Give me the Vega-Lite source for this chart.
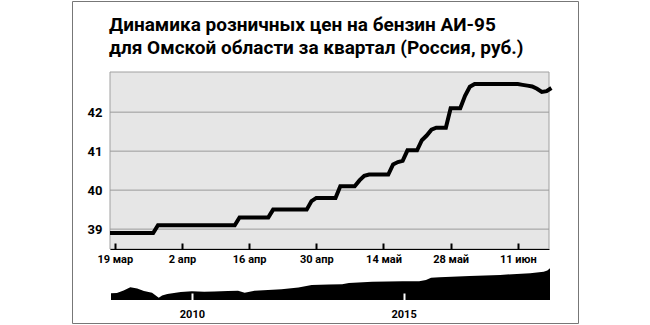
{
  "$schema": "https://vega.github.io/schema/vega-lite/v6.json",
  "width": 506,
  "height": 322,
  "padding": {"left": 72, "top": 1, "right": 2, "bottom": 1},
  "background": "white",
  "title": {
    "text": ["Динамика розничных цен на бензин АИ-95", "для Омской области за квартал (Россия, руб.)"],
    "anchor": "start",
    "frame": "group",
    "dx": 37,
    "offset": -57,
    "font": "Roboto",
    "fontSize": 19,
    "fontWeight": "bold",
    "lineHeight": 23,
    "color": "black"
  },
  "config": {
    "view": {"stroke": "#777", "strokeWidth": 1},
    "font": "Roboto",
    "axis": {"labelFont": "Roboto", "labelFontWeight": "bold", "labelColor": "black", "title": null}
  },
  "layer": [
    {
      "layer": [
        {
          "data": {"values": [{}]},
          "mark": {"type": "rect", "fill": "#e6e6e6", "stroke": "#a0a0a0", "strokeWidth": 1},
          "encoding": {
            "x": {"datum": {"year": 2018, "month": 3, "date": 18}, "type": "temporal"},
            "x2": {"datum": {"year": 2018, "month": 6, "date": 17, "hours": 12}},
            "y": {"datum": 38.49, "type": "quantitative"},
            "y2": {"datum": 43.03}
          }
        },
        {
          "data": {"values": [{"level": 39}, {"level": 40}, {"level": 41}, {"level": 42}]},
          "mark": {"type": "rule", "color": "#9a9a9a", "strokeWidth": 1},
          "encoding": {
            "x": {"datum": {"year": 2018, "month": 3, "date": 18}, "type": "temporal"},
            "x2": {"datum": {"year": 2018, "month": 6, "date": 17, "hours": 12}},
            "y": {"field": "level", "type": "quantitative"}
          }
        },
        {
          "data": {"values": [
            {"date": "2018-03-18T00:00", "price": 38.9},
            {"date": "2018-03-19T00:00", "price": 38.9},
            {"date": "2018-03-20T00:00", "price": 38.9},
            {"date": "2018-03-21T00:00", "price": 38.9},
            {"date": "2018-03-22T00:00", "price": 38.9},
            {"date": "2018-03-23T00:00", "price": 38.9},
            {"date": "2018-03-24T00:00", "price": 38.9},
            {"date": "2018-03-25T00:00", "price": 38.9},
            {"date": "2018-03-26T00:00", "price": 38.9},
            {"date": "2018-03-27T00:00", "price": 38.9},
            {"date": "2018-03-28T00:00", "price": 39.1},
            {"date": "2018-03-29T00:00", "price": 39.1},
            {"date": "2018-03-30T00:00", "price": 39.1},
            {"date": "2018-03-31T00:00", "price": 39.1},
            {"date": "2018-04-01T00:00", "price": 39.1},
            {"date": "2018-04-02T00:00", "price": 39.1},
            {"date": "2018-04-03T00:00", "price": 39.1},
            {"date": "2018-04-04T00:00", "price": 39.1},
            {"date": "2018-04-05T00:00", "price": 39.1},
            {"date": "2018-04-06T00:00", "price": 39.1},
            {"date": "2018-04-07T00:00", "price": 39.1},
            {"date": "2018-04-08T00:00", "price": 39.1},
            {"date": "2018-04-09T00:00", "price": 39.1},
            {"date": "2018-04-10T00:00", "price": 39.1},
            {"date": "2018-04-11T00:00", "price": 39.1},
            {"date": "2018-04-12T00:00", "price": 39.1},
            {"date": "2018-04-13T00:00", "price": 39.1},
            {"date": "2018-04-14T00:00", "price": 39.3},
            {"date": "2018-04-15T00:00", "price": 39.3},
            {"date": "2018-04-16T00:00", "price": 39.3},
            {"date": "2018-04-17T00:00", "price": 39.3},
            {"date": "2018-04-18T00:00", "price": 39.3},
            {"date": "2018-04-19T00:00", "price": 39.3},
            {"date": "2018-04-20T00:00", "price": 39.3},
            {"date": "2018-04-21T00:00", "price": 39.5},
            {"date": "2018-04-22T00:00", "price": 39.5},
            {"date": "2018-04-23T00:00", "price": 39.5},
            {"date": "2018-04-24T00:00", "price": 39.5},
            {"date": "2018-04-25T00:00", "price": 39.5},
            {"date": "2018-04-26T00:00", "price": 39.5},
            {"date": "2018-04-27T00:00", "price": 39.5},
            {"date": "2018-04-28T00:00", "price": 39.5},
            {"date": "2018-04-29T00:00", "price": 39.72},
            {"date": "2018-04-30T00:00", "price": 39.8},
            {"date": "2018-05-01T00:00", "price": 39.8},
            {"date": "2018-05-02T00:00", "price": 39.8},
            {"date": "2018-05-03T00:00", "price": 39.8},
            {"date": "2018-05-04T00:00", "price": 39.8},
            {"date": "2018-05-05T00:00", "price": 40.1},
            {"date": "2018-05-06T00:00", "price": 40.1},
            {"date": "2018-05-07T00:00", "price": 40.1},
            {"date": "2018-05-08T00:00", "price": 40.1},
            {"date": "2018-05-09T00:00", "price": 40.25},
            {"date": "2018-05-10T00:00", "price": 40.37},
            {"date": "2018-05-11T00:00", "price": 40.4},
            {"date": "2018-05-12T00:00", "price": 40.4},
            {"date": "2018-05-13T00:00", "price": 40.4},
            {"date": "2018-05-14T00:00", "price": 40.4},
            {"date": "2018-05-15T00:00", "price": 40.4},
            {"date": "2018-05-16T00:00", "price": 40.66},
            {"date": "2018-05-17T00:00", "price": 40.72},
            {"date": "2018-05-18T00:00", "price": 40.75},
            {"date": "2018-05-19T00:00", "price": 41.02},
            {"date": "2018-05-20T00:00", "price": 41.02},
            {"date": "2018-05-21T00:00", "price": 41.02},
            {"date": "2018-05-22T00:00", "price": 41.28},
            {"date": "2018-05-23T00:00", "price": 41.4},
            {"date": "2018-05-24T00:00", "price": 41.55},
            {"date": "2018-05-25T00:00", "price": 41.6},
            {"date": "2018-05-26T00:00", "price": 41.6},
            {"date": "2018-05-27T00:00", "price": 41.6},
            {"date": "2018-05-28T00:00", "price": 42.1},
            {"date": "2018-05-29T00:00", "price": 42.1},
            {"date": "2018-05-30T00:00", "price": 42.1},
            {"date": "2018-05-31T00:00", "price": 42.42},
            {"date": "2018-06-01T00:00", "price": 42.65},
            {"date": "2018-06-02T00:00", "price": 42.72},
            {"date": "2018-06-03T00:00", "price": 42.72},
            {"date": "2018-06-04T00:00", "price": 42.72},
            {"date": "2018-06-05T00:00", "price": 42.72},
            {"date": "2018-06-06T00:00", "price": 42.72},
            {"date": "2018-06-07T00:00", "price": 42.72},
            {"date": "2018-06-08T00:00", "price": 42.72},
            {"date": "2018-06-09T00:00", "price": 42.72},
            {"date": "2018-06-10T00:00", "price": 42.72},
            {"date": "2018-06-11T00:00", "price": 42.72},
            {"date": "2018-06-12T00:00", "price": 42.7},
            {"date": "2018-06-13T00:00", "price": 42.68},
            {"date": "2018-06-14T00:00", "price": 42.66},
            {"date": "2018-06-15T00:00", "price": 42.6},
            {"date": "2018-06-16T00:00", "price": 42.52},
            {"date": "2018-06-17T00:00", "price": 42.54},
            {"date": "2018-06-18T00:00", "price": 42.62}
          ]},
          "mark": {"type": "line", "color": "black", "strokeWidth": 4, "clip": true},
          "encoding": {
            "x": {
              "field": "date", "type": "temporal",
              "scale": {"domain": [{"year": 2018, "month": 3, "date": 18}, {"year": 2018, "month": 6, "date": 17, "hours": 12}], "range": [38, 477], "nice": false},
              "axis": {
                "orient": "bottom", "offset": -74, "zindex": 1,
                "values": [
                  {"year": 2018, "month": 3, "date": 19},
                  {"year": 2018, "month": 4, "date": 2},
                  {"year": 2018, "month": 4, "date": 16},
                  {"year": 2018, "month": 4, "date": 30},
                  {"year": 2018, "month": 5, "date": 14},
                  {"year": 2018, "month": 5, "date": 28},
                  {"year": 2018, "month": 6, "date": 11}
                ],
                "labelExpr": "date(datum.value) + ' ' + ['янв','фев','мар','апр','май','июн','июл','авг','сен','окт','ноя','дек'][month(datum.value)]",
                "domain": true, "domainColor": "black", "domainWidth": 1,
                "ticks": true, "tickColor": "black", "tickSize": -6, "tickWidth": 2,
                "labelFontSize": 11, "labelPadding": 10, "grid": false
              }
            },
            "y": {
              "field": "price", "type": "quantitative",
              "scale": {"domain": [38.49, 43.03], "range": [248, 71], "zero": false, "nice": false},
              "axis": {
                "orient": "left", "offset": -38, "format": "d",
                "values": [39, 40, 41, 42],
                "domain": false, "ticks": false, "grid": false,
                "labelFontSize": 13, "labelPadding": 8
              }
            }
          }
        }
      ]
    },
    {
      "data": {"values": [
        {"date": "2008-02-03T00:00", "price": 22.0},
        {"date": "2008-03-25T00:00", "price": 22.2},
        {"date": "2008-05-22T00:00", "price": 24.4},
        {"date": "2008-07-19T00:00", "price": 27.0},
        {"date": "2008-09-16T00:00", "price": 26.0},
        {"date": "2008-11-13T00:00", "price": 23.9},
        {"date": "2009-01-22T00:00", "price": 22.5},
        {"date": "2009-03-21T00:00", "price": 18.4},
        {"date": "2009-04-19T00:00", "price": 20.2},
        {"date": "2009-06-03T00:00", "price": 21.5},
        {"date": "2009-09-27T00:00", "price": 23.1},
        {"date": "2010-01-01T00:00", "price": 23.7},
        {"date": "2010-04-16T00:00", "price": 23.4},
        {"date": "2010-07-13T00:00", "price": 23.5},
        {"date": "2010-11-07T00:00", "price": 23.9},
        {"date": "2011-02-03T00:00", "price": 24.2},
        {"date": "2011-04-01T00:00", "price": 22.5},
        {"date": "2011-06-25T00:00", "price": 24.2},
        {"date": "2011-10-19T00:00", "price": 24.8},
        {"date": "2012-02-13T00:00", "price": 25.3},
        {"date": "2012-07-08T00:00", "price": 26.8},
        {"date": "2012-10-30T00:00", "price": 28.9},
        {"date": "2013-03-26T00:00", "price": 29.3},
        {"date": "2013-07-20T00:00", "price": 29.5},
        {"date": "2013-09-16T00:00", "price": 30.5},
        {"date": "2014-04-05T00:00", "price": 31.6},
        {"date": "2014-12-24T00:00", "price": 32.0},
        {"date": "2015-05-15T00:00", "price": 32.0},
        {"date": "2015-07-13T00:00", "price": 33.0},
        {"date": "2015-08-26T00:00", "price": 34.9},
        {"date": "2015-11-07T00:00", "price": 35.3},
        {"date": "2016-07-23T00:00", "price": 36.3},
        {"date": "2017-04-13T00:00", "price": 37.2},
        {"date": "2017-12-28T00:00", "price": 38.6},
        {"date": "2018-02-24T00:00", "price": 39.1},
        {"date": "2018-04-23T00:00", "price": 39.9},
        {"date": "2018-05-25T00:00", "price": 40.9},
        {"date": "2018-06-17T00:00", "price": 42.7}
      ]},
      "mark": {"type": "area", "color": "black", "fillOpacity": 1},
      "encoding": {
        "x": {
          "field": "date", "type": "temporal",
          "scale": {"range": [39, 478], "nice": false},
          "axis": {
            "orient": "bottom", "offset": -23, "zindex": 1,
            "values": [{"year": 2010, "month": 1, "date": 1}, {"year": 2015, "month": 1, "date": 1}],
            "format": "%Y",
            "domain": false, "ticks": true, "tickColor": "white", "tickSize": -7, "tickWidth": 2,
            "labelFontSize": 11, "labelPadding": 15, "grid": false
          }
        },
        "y": {
          "field": "price", "type": "quantitative",
          "scale": {"domain": [16.5, 42.9], "range": [299, 267], "zero": false, "nice": false},
          "axis": null
        },
        "y2": {"datum": 16.5}
      }
    }
  ],
  "resolve": {
    "scale": {"x": "independent", "y": "independent"},
    "axis": {"x": "independent", "y": "independent"}
  }
}
